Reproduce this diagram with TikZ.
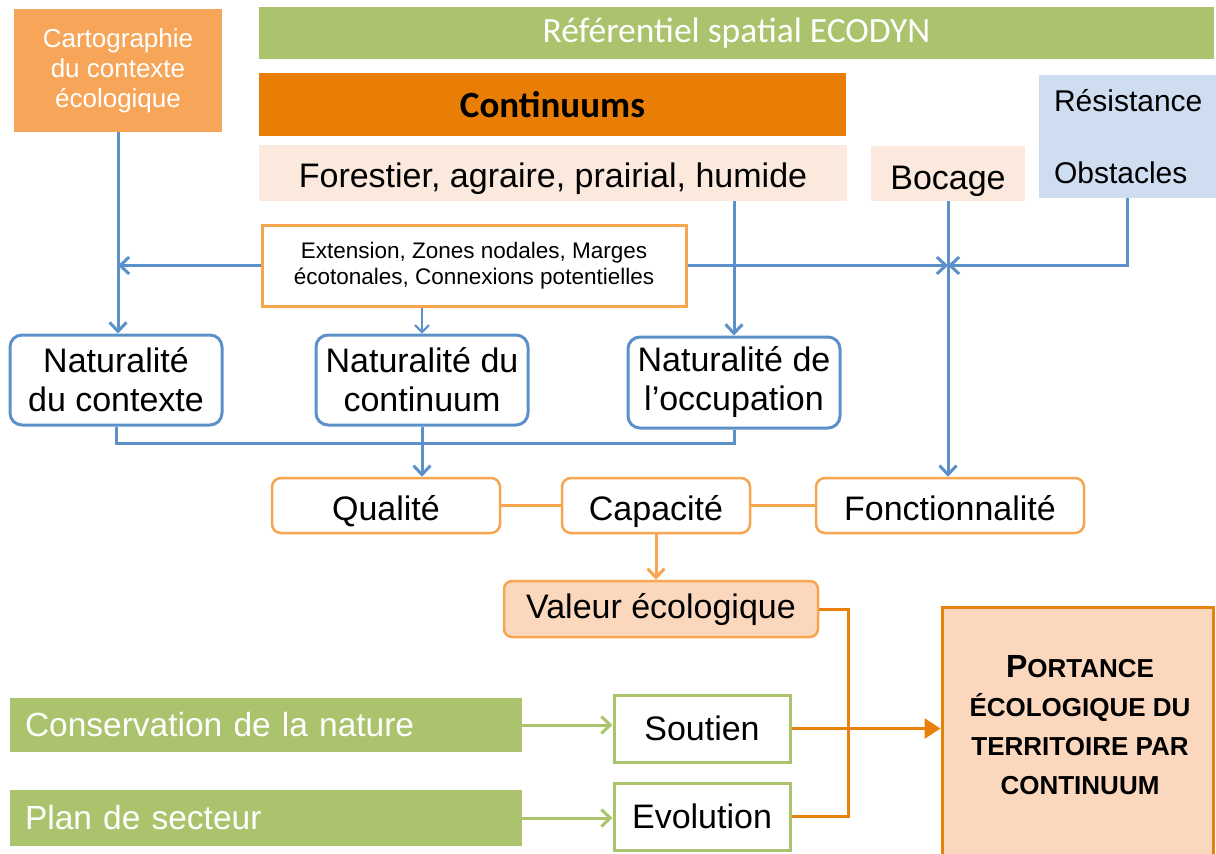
\documentclass[tikz,border=0pt]{standalone}
\usepackage{fontspec}
\setmainfont{Liberation Sans}
\newfontfamily\calfont{Carlito}
\usetikzlibrary{arrows.meta,calc}

\definecolor{ecogreen}{RGB}{171,195,108}
\definecolor{cartoorange}{RGB}{247,166,89}
\definecolor{contorange}{RGB}{232,126,5}
\definecolor{peach}{RGB}{251,233,221}
\definecolor{paleblue}{RGB}{207,221,241}
\definecolor{linkblue}{RGB}{91,144,200}
\definecolor{softorange}{RGB}{247,165,79}
\definecolor{valfill}{RGB}{251,216,189}
\definecolor{deeporange}{RGB}{232,129,10}
\definecolor{greenline}{RGB}{169,196,108}

\newcommand\setfs[2]{\fontsize{#1}{#2}\selectfont}

\tikzset{
  sz/.style 2 args={minimum width=#1pt, minimum height=#2pt, inner sep=0pt},
  flatbox/.style={draw=none, align=center},
  natbox/.style={draw=linkblue, line width=3pt, rounded corners=12pt, fill=white,
    align=center, font=\setfs{34}{39}},
  orbox/.style={draw=softorange, line width=2.5pt, rounded corners=9pt, fill=white,
    align=center, font=\setfs{34}{39}, text height=36pt, text depth=7pt},
  grbox/.style={draw=greenline, line width=3pt, fill=white, align=center,
    font=\setfs{34}{39}},
  blink/.style={draw=linkblue, line width=3pt},
  blarrow/.style={blink, -{Straight Barb[length=9pt,width=17pt,line width=3pt]}},
  olink/.style={draw=softorange, line width=3pt},
  dlink/.style={draw=deeporange, line width=3pt},
  glink/.style={draw=greenline, line width=3pt,
    -{Straight Barb[length=9pt,width=17pt,line width=3pt]}},
}

\begin{document}
\begin{tikzpicture}[x=1pt,y=-1pt]
\useasboundingbox (0,0) rectangle (1216,854);

% --- top row: sources
\node[flatbox, fill=cartoorange, sz={208}{123}, text=white, font=\setfs{26}{30}]
  (carto) at (118,70.5) {Cartographie\\du contexte\\écologique};
\node[flatbox, fill=ecogreen, sz={955}{52}, text=white, font=\calfont\setfs{35.5}{40}]
  (ref) at (736.5,33) {Référentiel spatial ECODYN};
\node[flatbox, fill=contorange, sz={587}{63}, font=\calfont\bfseries\setfs{37}{42}]
  (cont) at (552.5,104.5) {Continuums};
\node[flatbox, fill=peach, sz={588}{56}, font=\setfs{34}{39}, text height=35pt, text depth=7pt]
  (forest) at (553,173) {Forestier, agraire, prairial, humide};
\node[flatbox, fill=peach, sz={154}{55}, font=\setfs{34}{39}, text height=38pt, text depth=7pt]
  (boc) at (948,173.5) {Bocage};
\node[draw=none, fill=paleblue, minimum height=123pt, text width=147pt,
  inner xsep=15pt, inner ysep=0pt, align=left, font=\setfs{30}{36}]
  (resist) at (1127.5,136.5) {Résistance\\[36pt]Obstacles};

% --- derived layers
\node[draw=softorange, line width=3pt, fill=white, sz={424}{81}, align=center,
  font=\setfs{22.5}{26}]
  (ext) at (474,265.5) {Extension, Zones nodales, Marges\\écotonales, Connexions potentielles};

% --- naturalness indicators
\node[natbox, sz={212}{90}] (nat1) at (116,380) {Naturalité\\du contexte};
\node[natbox, sz={212}{90}] (nat2) at (422,380) {Naturalité du\\continuum};
\node[natbox, sz={212}{91}] (nat3) at (734,382.5) {Naturalité de\\l’occupation};

% --- quality / capacity / functionality
\node[orbox, sz={228}{55}] (qual) at (386,505.5) {Qualité};
\node[orbox, sz={188}{55}] (capa) at (656,505.5) {Capacité};
\node[orbox, sz={268}{55}] (fonc) at (950,505.5) {Fonctionnalité};
\node[orbox, fill=valfill, rounded corners=8pt, sz={314}{56}, text height=25pt]
  (val) at (661,609) {Valeur écologique};

% --- external frameworks
\node[flatbox, fill=ecogreen, sz={512}{54}, text=white, text width=482pt, align=left,
  font=\setfs{33.5}{39}] (cons) at (266,725) {Conservation de la nature};
\node[flatbox, fill=ecogreen, sz={512}{56}, text=white, text width=482pt, align=left,
  font=\setfs{33.5}{39}] (plan) at (266,818) {Plan de secteur};
\node[grbox, sz={176}{67}] (sout) at (702,728.5) {Soutien};
\node[grbox, sz={176}{67}] (evol) at (702,816.5) {Evolution};

% --- result
\node[draw=deeporange, line width=3pt, fill=valfill, sz={271}{266}]
  (port) at (1077.5,740) {};
\node[align=center, inner sep=0pt, font=\bfseries\setfs{26}{39}] (porttxt) at (1080,725)
  {{\setfs{32}{39}P}ORTANCE\\ÉCOLOGIQUE DU\\TERRITOIRE PAR\\CONTINUUM};

% --- blue connectors
\draw[blarrow] (carto.south) -- (carto.south |- nat1.north);
\draw[blarrow] (ext.west) -- (ext.west -| carto.south);
\draw[blink, line width=2pt, -{Straight Barb[length=7pt,width=14pt,line width=2pt]}]
  (nat2.north |- ext.south) -- (nat2.north);
\coordinate (meet) at ($(ext.east -| boc.south)$);
\draw[blarrow] (ext.east) -- (meet);
\draw[blarrow] (forest.south -| nat3.north) -- (nat3.north);
\draw[blarrow] (boc.south) -- (boc.south |- fonc.north);
\draw[blarrow] (resist.south) |- (meet);
\coordinate (join) at (422,443);
\draw[blink] (nat1.south) |- (join) -| (nat3.south);
\draw[blarrow] (nat2.south) -- (nat2.south |- qual.north);

% --- orange connectors
\draw[olink] (qual.east) -- (capa.west);
\draw[olink] (capa.east) -- (fonc.west);
\draw[olink, -{Straight Barb[length=9pt,width=17pt,line width=3pt]}]
  (capa.south) -- (capa.south |- val.north);
\coordinate (vx) at (848,609);
\draw[dlink] (val.east) -- (vx) |- (evol.east);
\draw[dlink, -{Triangle[length=16pt,width=20pt]}] (sout.east) -- (sout.east -| port.west);

% --- green connectors
\draw[glink] (cons.east) -- (cons.east -| sout.west);
\draw[glink] (plan.east) -- (plan.east -| evol.west);
\end{tikzpicture}
\end{document}
